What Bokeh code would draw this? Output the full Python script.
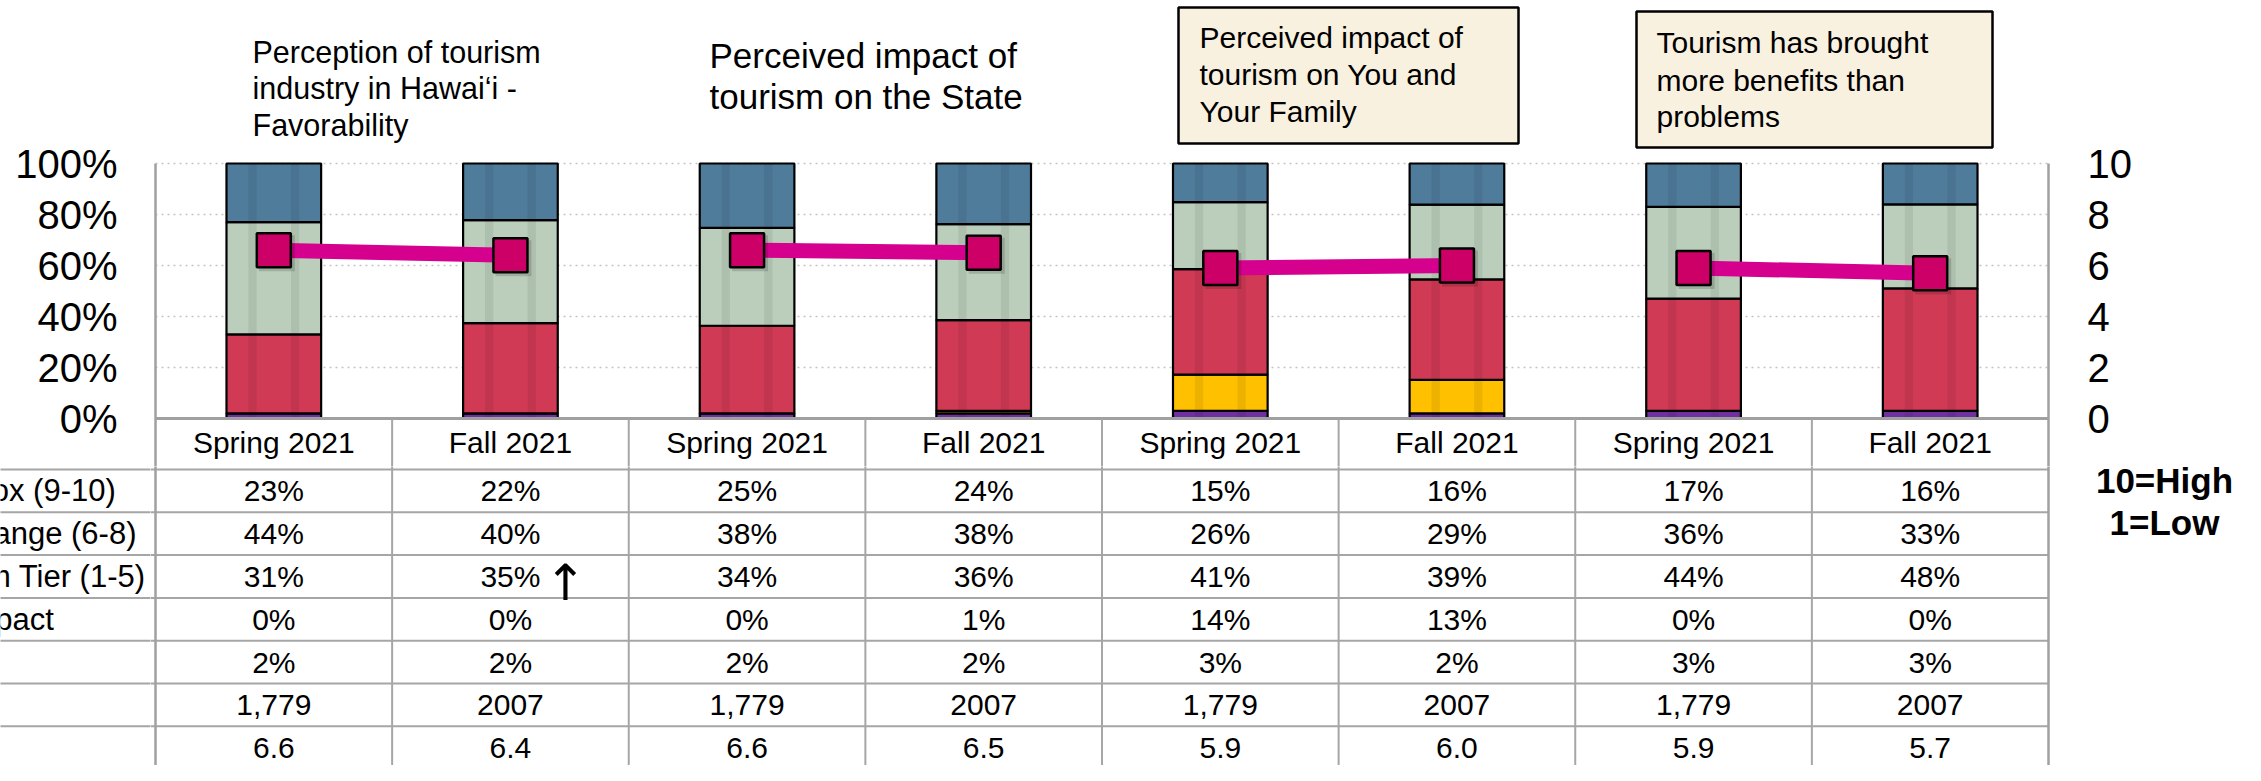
from bokeh.plotting import figure
from bokeh.layouts import column, row
from bokeh.models import (Range1d, LinearAxis, FixedTicker, ColumnDataSource,
                          PrintfTickFormatter)
from bokeh.core.properties import value
from bokeh.embed import file_html
from bokeh.resources import INLINE

# ---------------- data ----------------
periods = ["Spring 2021", "Fall 2021", "Spring 2021", "Fall 2021",
           "Spring 2021", "Fall 2021", "Spring 2021", "Fall 2021"]
top_box = [23, 22, 25, 24, 15, 16, 17, 16]          # 9-10
mid_range = [44, 40, 38, 38, 26, 29, 36, 33]        # 6-8
bottom_tier = [31, 35, 34, 36, 41, 39, 44, 48]      # 1-5
no_impact = [0, 0, 0, 1, 14, 13, 0, 0]
dont_know = [2, 2, 2, 2, 3, 2, 3, 3]
sample_n = ["1,779", "2007", "1,779", "2007", "1,779", "2007", "1,779", "2007"]
mean_score = [6.6, 6.4, 6.6, 6.5, 5.9, 6.0, 5.9, 5.7]
row_labels = ["Top Box (9-10)", "Mid Range (6-8)", "Bottom Tier (1-5)", "No Impact"]
pct_ticks = [0, 20, 40, 60, 80, 100]
mean_ticks = [0, 2, 4, 6, 8, 10]
title_1 = ["Perception of tourism", "industry in Hawai\u2018i -", "Favorability"]
title_2 = ["Perceived impact of", "tourism on the State"]
title_3 = ["Perceived impact of", "tourism on You and", "Your Family"]
title_4 = ["Tourism has brought", "more benefits than", "problems"]
scale_note = ["10=High", "1=Low"]

# ---------------- layout helpers (page pixels) ----------------
FONT = "Liberation Sans"
W, H = 2245, 765
FRAME_L, FRAME_R = 155, 2048
BASE_Y, PX_PER_PCT = 418, 2.55
COL_W = (FRAME_R - FRAME_L) / 8.0
SPLIT = 466            # bottom of the chart figure
HDR_BOTTOM = 469       # first table row line
ROW_PX = 42.8
LABEL_W = 150


def xu(px):
    return (px - FRAME_L) / COL_W


def yu(py):
    return (BASE_Y - py) / PX_PER_PCT


def ru(py):
    return (HDR_BOTTOM - py) / ROW_PX


n = len(periods)
xc = [i + 0.5 for i in range(n)]

totals = [dont_know[i] + no_impact[i] + bottom_tier[i] + mid_range[i] + top_box[i] for i in range(n)]
src = ColumnDataSource(dict(
    x=xc,
    dk=[dont_know[i] * 100.0 / totals[i] for i in range(n)],
    ni=[no_impact[i] * 100.0 / totals[i] for i in range(n)],
    bt=[bottom_tier[i] * 100.0 / totals[i] for i in range(n)],
    mr=[mid_range[i] * 100.0 / totals[i] for i in range(n)],
    tb=[top_box[i] * 100.0 / totals[i] for i in range(n)],
))

Y_TOP, Y_BOT = yu(0), yu(SPLIT)
GRID = "#A6A6A6"

# ================= chart figure =================
p = figure(width=W, height=SPLIT, x_range=Range1d(0, 8), y_range=Range1d(Y_BOT, Y_TOP),
           x_axis_location=None, y_axis_location="left",
           min_border_left=FRAME_L, min_border_right=W - FRAME_R,
           min_border_top=0, min_border_bottom=0,
           outline_line_color=None, background_fill_color="white", border_fill_color="white",
           output_backend="svg", toolbar_location=None)
p.extra_y_ranges = {"mean": Range1d(Y_BOT / 10.0, Y_TOP / 10.0)}

ax = p.yaxis[0]
ax.ticker = FixedTicker(ticks=pct_ticks)
ax.formatter = PrintfTickFormatter(format="%d%%")
ax.bounds = (Y_BOT, 100)
rax = LinearAxis(y_range_name="mean", ticker=FixedTicker(ticks=mean_ticks),
                 bounds=(Y_BOT / 10.0, 10))
p.add_layout(rax, "right")
for a, so in ((ax, 38), (rax, 39)):
    a.major_label_text_font = FONT
    a.major_label_text_font_size = "40px"
    a.major_label_text_color = "black"
    a.major_label_standoff = so
    a.major_tick_line_color = None
    a.major_tick_out = 0
    a.major_tick_in = 0
    a.minor_tick_line_color = None
    a.axis_line_color = "#A0A0A0"
    a.axis_line_width = 2.5

p.ygrid.ticker = FixedTicker(ticks=[20, 40, 60, 80, 100])
p.ygrid.grid_line_color = "#C4C4C4"
p.ygrid.grid_line_dash = "2 4"
p.ygrid.grid_line_width = 1.5
p.xgrid.visible = False

# bars
colors = ["#7030A0", "#FFC000", "#D03A55", "#BBCEBB", "#4F7C9B"]
p.vbar_stack(["dk", "ni", "bt", "mr", "tb"], x="x", width=0.4, color=colors,
             line_color="black", line_width=2.2, source=src)
for off in (-0.09, 0.09):
    p.vbar(x=[c + off for c in xc], width=0.035, top=100, bottom=0,
           fill_color="black", fill_alpha=0.07, line_color=None)

# mean line
pair_x = [[xc[i], xc[i + 1]] for i in range(0, n, 2)]
pair_y = [[mean_score[i], mean_score[i + 1]] for i in range(0, n, 2)]
p.multi_line(pair_x, pair_y, line_color="#D5008E", line_width=15, y_range_name="mean")
SH_X, SH_Y = 3 / COL_W, 3 / PX_PER_PCT / 10.0
p.scatter([c + SH_X for c in xc], [m - SH_Y for m in mean_score], marker="square", size=36,
          fill_color="black", fill_alpha=0.15, line_color=None, y_range_name="mean")
p.scatter(xc, mean_score, marker="square", size=34, fill_color="#CC0066",
          line_color="black", line_width=2.5, y_range_name="mean")


def title_lines(lines, left_px, mids_px, size):
    p.text(x=[xu(left_px)] * len(lines), y=[yu(m) for m in mids_px], text=lines,
           text_font=value(FONT), text_font_size=size, text_color="black",
           text_align="left", text_baseline="middle")


title_lines(title_1, 252, [51, 87, 124], "30.5px")
title_lines(title_2, 709, [55, 96], "35px")
p.quad(left=[xu(1178), xu(1636)], right=[xu(1518), xu(1992)],
       top=[yu(7), yu(11)], bottom=[yu(143), yu(147)],
       fill_color="#F9F1E0", line_color="black", line_width=2.5)
title_lines(title_3, 1199, [37, 74, 111], "30px")
title_lines(title_4, 1656, [42, 80, 116], "30px")

# header row of the table (x labels)
p.segment(x0=[0], x1=[8], y0=[0], y1=[0], line_color="#A0A0A0", line_width=3)
p.segment(x0=list(range(1, 8)), x1=list(range(1, 8)), y0=[0] * 7, y1=[Y_BOT] * 7,
          line_color=GRID, line_width=2)
text_kw = dict(text_font=value(FONT), text_font_size="30px", text_color="black",
               text_align="center", text_baseline="middle")
p.text(x=xc, y=[yu(441.5)] * n, text=periods, **text_kw)

# ================= table figures =================
BH = H - SPLIT
R_TOP, R_BOT = ru(SPLIT), ru(H)
n_rows = 7
row_lines = [-k for k in range(n_rows + 1)]

lab = figure(width=LABEL_W, height=BH, x_range=Range1d(xu(0), xu(LABEL_W)),
             y_range=Range1d(R_BOT, R_TOP), x_axis_location=None, y_axis_location=None,
             min_border=0, outline_line_color=None, output_backend="svg",
             toolbar_location=None)
lab.grid.visible = False
lab.segment(x0=[xu(0) - 1] * len(row_lines), x1=[xu(LABEL_W) + 1] * len(row_lines),
            y0=row_lines, y1=row_lines, line_color=GRID, line_width=2)
lab.text(x=[xu(-88)] * len(row_labels), y=[-(k + 0.5) for k in range(len(row_labels))],
         text=row_labels, text_font=value(FONT), text_font_size="31px", text_color="black",
         text_align="left", text_baseline="middle")

tb = figure(width=W - LABEL_W, height=BH, x_range=Range1d(xu(LABEL_W), xu(W)),
            y_range=Range1d(R_BOT, R_TOP), x_axis_location=None, y_axis_location=None,
            min_border=0, outline_line_color=None, output_backend="svg",
            toolbar_location=None)
tb.grid.visible = False
tb.segment(x0=[xu(LABEL_W) - 1] * len(row_lines), x1=[8] * len(row_lines),
           y0=row_lines, y1=row_lines, line_color=GRID, line_width=2)
tb.segment(x0=list(range(1, 8)), x1=list(range(1, 8)), y0=[R_TOP + 1] * 7, y1=[R_BOT - 1] * 7,
           line_color=GRID, line_width=2)
tb.segment(x0=[0, 8], x1=[0, 8], y0=[R_TOP + 1] * 2, y1=[R_BOT - 1] * 2,
           line_color="#A0A0A0", line_width=2.5)

rows = [
    [f"{v}%" for v in top_box],
    [f"{v}%" for v in mid_range],
    [f"{v}%" for v in bottom_tier],
    [f"{v}%" for v in no_impact],
    [f"{v}%" for v in dont_know],
    sample_n,
    [f"{v:.1f}" for v in mean_score],
]
for k, vals in enumerate(rows):
    tb.text(x=xc, y=[-(k + 0.5)] * n, text=vals, **text_kw)

# upward arrow flag next to Fall 2021 bottom tier
tb.text(x=[xc[1]], y=[-2.5], text=["\u2191"], x_offset=55, y_offset=6,
        text_font=value("DejaVu Sans"), text_font_size="50px", text_color="black",
        text_align="center", text_baseline="middle")

# scale note at the right
tb.text(x=[xu(2164)] * 2, y=[ru(480), ru(522)], text=scale_note,
        text_font=value(FONT), text_font_size="35px", text_font_style="bold",
        text_color="black", text_align="center", text_baseline="middle")

layout = column(p, row(lab, tb, spacing=0), spacing=0)
open("out.html", "w").write(file_html(layout, INLINE))
